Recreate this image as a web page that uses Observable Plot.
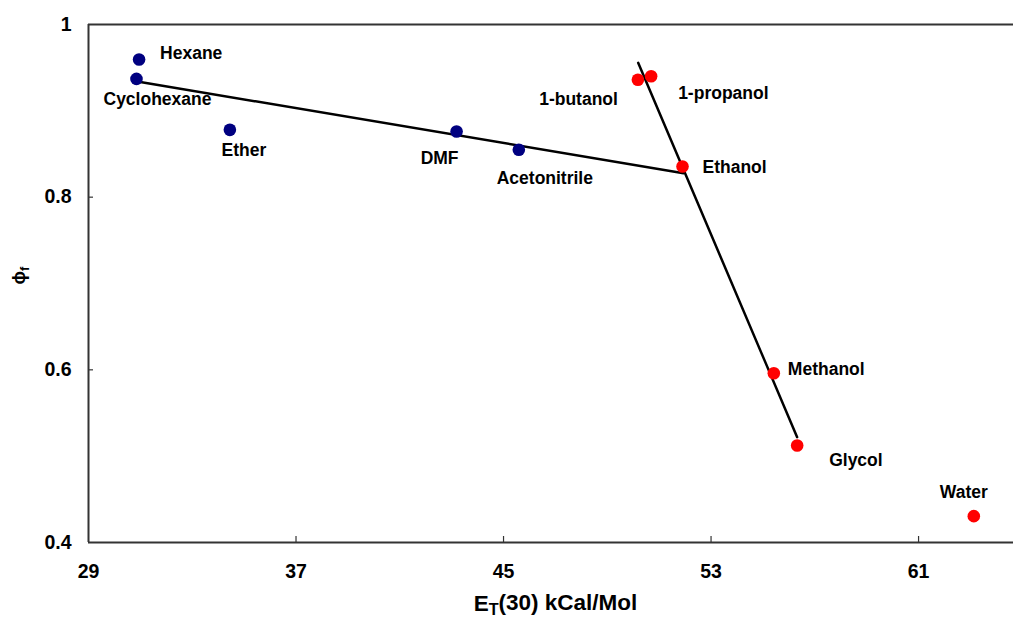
<!DOCTYPE html>
<html>
<head>
<meta charset="utf-8">
<script src="https://cdn.jsdelivr.net/npm/d3@7"></script>
<script src="https://cdn.jsdelivr.net/npm/@observablehq/plot@0.6"></script>
<style>
  html, body { margin: 0; padding: 0; background: #fff; }
  #chart { width: 1013px; height: 622px; }
</style>
</head>
<body>
<div id="chart"></div>
<script>
// Fluorescence quantum yield against solvent polarity, ET(30)
const solvents = ["Hexane", "Cyclohexane", "Ether", "DMF", "Acetonitrile",
                  "1-butanol", "1-propanol", "Ethanol", "Methanol", "Glycol", "Water"];
const et30 = [30.95, 30.85, 34.45, 43.19, 45.59, 50.18, 50.69, 51.90, 55.42, 56.32, 63.13];
const phiF = [0.9595, 0.937, 0.878, 0.876, 0.855, 0.936, 0.940, 0.8355, 0.596, 0.5123, 0.4305];
const solventType = ["aprotic", "aprotic", "aprotic", "aprotic", "aprotic",
                     "protic", "protic", "protic", "protic", "protic", "protic"];

// Linear trend segments (endpoints in data units)
const aproticFitX = [30.88, 51.94];
const aproticFitY = [0.934, 0.8278];
const proticFitX = [50.19, 56.32];
const proticFitY = [0.9556, 0.522];

const xTicks = [29, 37, 45, 53, 61];
const yTicks = [0.4, 0.6, 0.8, 1];

// label anchor and pixel offset from each dot
const labelPlacement = {
  "Hexane":       ["start",  21, -6],
  "Cyclohexane":  ["middle", 21, 21],
  "Ether":        ["middle", 14, 21],
  "DMF":          ["middle", -17, 27],
  "Acetonitrile": ["middle", 26, 29],
  "1-butanol":    ["end",   -20, 20],
  "1-propanol":   ["start",  27, 17],
  "Ethanol":      ["start",  20, 1],
  "Methanol":     ["start",  14, -4],
  "Glycol":       ["start",  32, 15],
  "Water":        ["middle", -10, -24]
};

const points = solvents.map((name, i) => ({name, x: et30[i], y: phiF[i], type: solventType[i]}));
const fitA = aproticFitX.map((x, i) => ({x, y: aproticFitY[i]}));
const fitP = proticFitX.map((x, i) => ({x, y: proticFitY[i]}));

const font = "'Liberation Sans', Arial, Helvetica, sans-serif";
const axisColor = "#333";

const width = 1013, height = 622;
const margin = {left: 88, right: 0, top: 24, bottom: 80};
const frameW = width - margin.left - margin.right;
const frameH = height - margin.top - margin.bottom;

const labelMarks = points.map(p => {
  const [anchor, dx, dy] = labelPlacement[p.name];
  return Plot.text([p], {x: "x", y: "y", text: "name", textAnchor: anchor, dx, dy,
    fontSize: 17.5, fontWeight: "bold", fill: "#000"});
});

const chart = Plot.plot({
  width, height,
  marginLeft: margin.left,
  marginRight: margin.right,
  marginTop: margin.top,
  marginBottom: margin.bottom,
  style: {fontFamily: font, background: "#fff", color: "#000"},
  x: {domain: [29, 64.66]},
  y: {domain: [0.4, 1]},
  marks: [
    // frame: left, bottom and top lines
    Plot.ruleX([29], {stroke: axisColor, strokeWidth: 2}),
    Plot.ruleY([0.4], {stroke: axisColor, strokeWidth: 2}),
    Plot.ruleY([1], {stroke: axisColor, strokeWidth: 1.8}),
    // short inward ticks
    Plot.tickX(xTicks.slice(1), {x: d => d, insetTop: frameH - 6, stroke: axisColor, strokeWidth: 1.2}),
    Plot.tickY(yTicks.slice(1, 3), {y: d => d, insetRight: frameW - 5, stroke: axisColor, strokeWidth: 1.2}),
    Plot.axisX({ticks: xTicks, tickSize: 0, tickPadding: 22, label: null,
      fontSize: 19.5, fontWeight: "bold", fill: "#000", tickFormat: d => String(d)}),
    Plot.axisY({ticks: yTicks, tickSize: 0, tickPadding: 17, label: null,
      fontSize: 19.5, fontWeight: "bold", fill: "#000",
      tickFormat: d => d === 1 ? "1" : d.toFixed(1)}),
    // trend lines
    Plot.line(fitA, {x: "x", y: "y", stroke: "#000", strokeWidth: 2.5}),
    Plot.line(fitP, {x: "x", y: "y", stroke: "#000", strokeWidth: 2.5}),
    // solvent points
    Plot.dot(points, {x: "x", y: "y", r: 6.3, fill: d => d.type === "aprotic" ? "#000080" : "#ff0000", stroke: "none"}),
    ...labelMarks,
    // axis titles
    Plot.text(["ET(30) kCal/Mol"], {frameAnchor: "bottom", dx: 4.5, dy: 68,
      fontSize: 22.5, fontWeight: "bold", fill: "#000"}),
    Plot.text(["ϕf"], {frameAnchor: "left", dx: -69, dy: 1, rotate: -90,
      fontSize: 18, fontWeight: "bold", fill: "#000"})
  ]
});

// subscripts in the axis titles
const svg = d3.select(chart);
svg.selectAll("text").filter(function () { return this.textContent === "ET(30) kCal/Mol"; })
  .each(function () {
    const t = d3.select(this);
    t.text(null);
    t.append("tspan").text("E");
    t.append("tspan").attr("dy", "0.3em").attr("font-size", "0.72em").text("T");
    t.append("tspan").attr("dy", "-0.22em").text("(30) kCal/Mol");
  });
svg.selectAll("text").filter(function () { return this.textContent === "ϕf"; })
  .each(function () {
    const t = d3.select(this);
    t.text(null);
    t.append("tspan").text("ϕ");
    t.append("tspan").attr("dy", "0.3em").attr("font-size", "0.7em").text("f");
  });

document.getElementById("chart").appendChild(chart);
</script>
</body>
</html>
